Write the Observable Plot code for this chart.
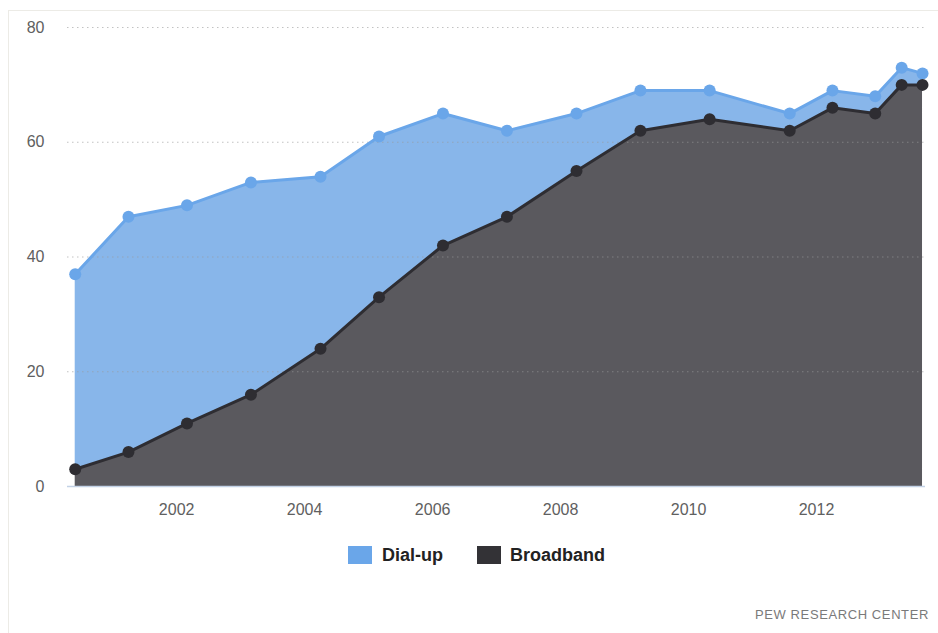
<!DOCTYPE html>
<html><head><meta charset="utf-8">
<script src="https://cdn.jsdelivr.net/npm/d3@7"></script>
<script src="https://cdn.jsdelivr.net/npm/@observablehq/plot@0.6"></script>
<style>
body{margin:0;background:#fff;width:938px;height:633px;overflow:hidden;position:relative;font-family:"Liberation Sans",Arial,sans-serif;}
#frame{position:absolute;left:8px;top:10px;width:1000px;height:700px;border-left:1px solid #ecebe6;border-top:1px solid #ecebe6;}
#chart{position:absolute;left:0;top:0;}
.sw{position:absolute;top:546px;width:24px;height:18px;}
.lt{position:absolute;top:544px;font-size:18px;font-weight:bold;color:#222;line-height:22px;}
#credit{position:absolute;left:755px;top:606px;font-size:13px;color:#7a7a7a;letter-spacing:0.6px;line-height:18px;}
</style>
</head><body>
<div id="frame"></div>
<div id="chart"></div>
<div class="sw" style="left:348px;background:#6aa6e9"></div>
<div class="lt" style="left:382px">Dial-up</div>
<div class="sw" style="left:477px;background:#333236"></div>
<div class="lt" style="left:510px">Broadband</div>
<div id="credit">PEW RESEARCH CENTER</div>
<script>
const surveyDates = ["2000-06-01","2001-04-01","2002-03-01","2003-03-01","2004-04-01","2005-03-01","2006-03-01","2007-03-01","2008-04-01","2009-04-01","2010-05-01","2011-08-01","2012-04-01","2012-12-01","2013-05-01","2013-08-28"];
const dialup    = [34,41,38,37,30,28,23,15,10,7,5,3,3,3,3,2];
const broadband = [3,6,11,16,24,33,42,47,55,62,64,62,66,65,70,70];
const yTicks = [0,20,40,60,80];
const xTickYears = [2002,2004,2006,2008,2010,2012];

const data = surveyDates.map((d,i)=>({date:new Date(d+"T00:00:00Z"), dialup:dialup[i], broadband:broadband[i], total:dialup[i]+broadband[i]}));

const blueFill="#88b6ea", blueLine="#6aa6e9", darkFill="#5a595e", darkLine="#2e2d32";

const chart = Plot.plot({
  width:938, height:530,
  marginLeft:67, marginRight:13, marginTop:27, marginBottom:44,
  style:{fontFamily:"Liberation Sans, Arial, sans-serif", color:"#606060", background:"transparent"},
  x:{type:"utc", domain:[new Date("2000-04-18T00:00:00Z"), new Date("2013-09-14T00:00:00Z")]},
  y:{domain:[0,80]},
  marks:[
    Plot.areaY(data,{x:"date", y1:0, y2:"broadband", fill:darkFill}),
    Plot.areaY(data,{x:"date", y1:"broadband", y2:"total", fill:blueFill}),
    Plot.ruleY(yTicks.filter(t=>t>0),{stroke:"#9a9a9a", strokeOpacity:0.6, strokeDasharray:"1.5,3.5"}),
    Plot.ruleY([0],{stroke:"#c3d2e6", strokeWidth:1.5}),
    Plot.line(data,{x:"date", y:"total", stroke:blueLine, strokeWidth:3}),
    Plot.line(data,{x:"date", y:"broadband", stroke:darkLine, strokeWidth:3}),
    Plot.dot(data,{x:"date", y:"total", r:6, fill:blueLine}),
    Plot.dot(data,{x:"date", y:"broadband", r:6, fill:darkLine}),
    Plot.axisY({ticks:yTicks, tickSize:0, tickPadding:23, fontSize:16, tickFormat:d=>String(d)}),
    Plot.axisX({ticks:xTickYears.map(y=>new Date(Date.UTC(y,0,1))), tickSize:0, tickPadding:17, fontSize:16, tickFormat:d=>String(d.getUTCFullYear())})
  ]
});
document.getElementById("chart").appendChild(chart);
</script>
</body></html>
